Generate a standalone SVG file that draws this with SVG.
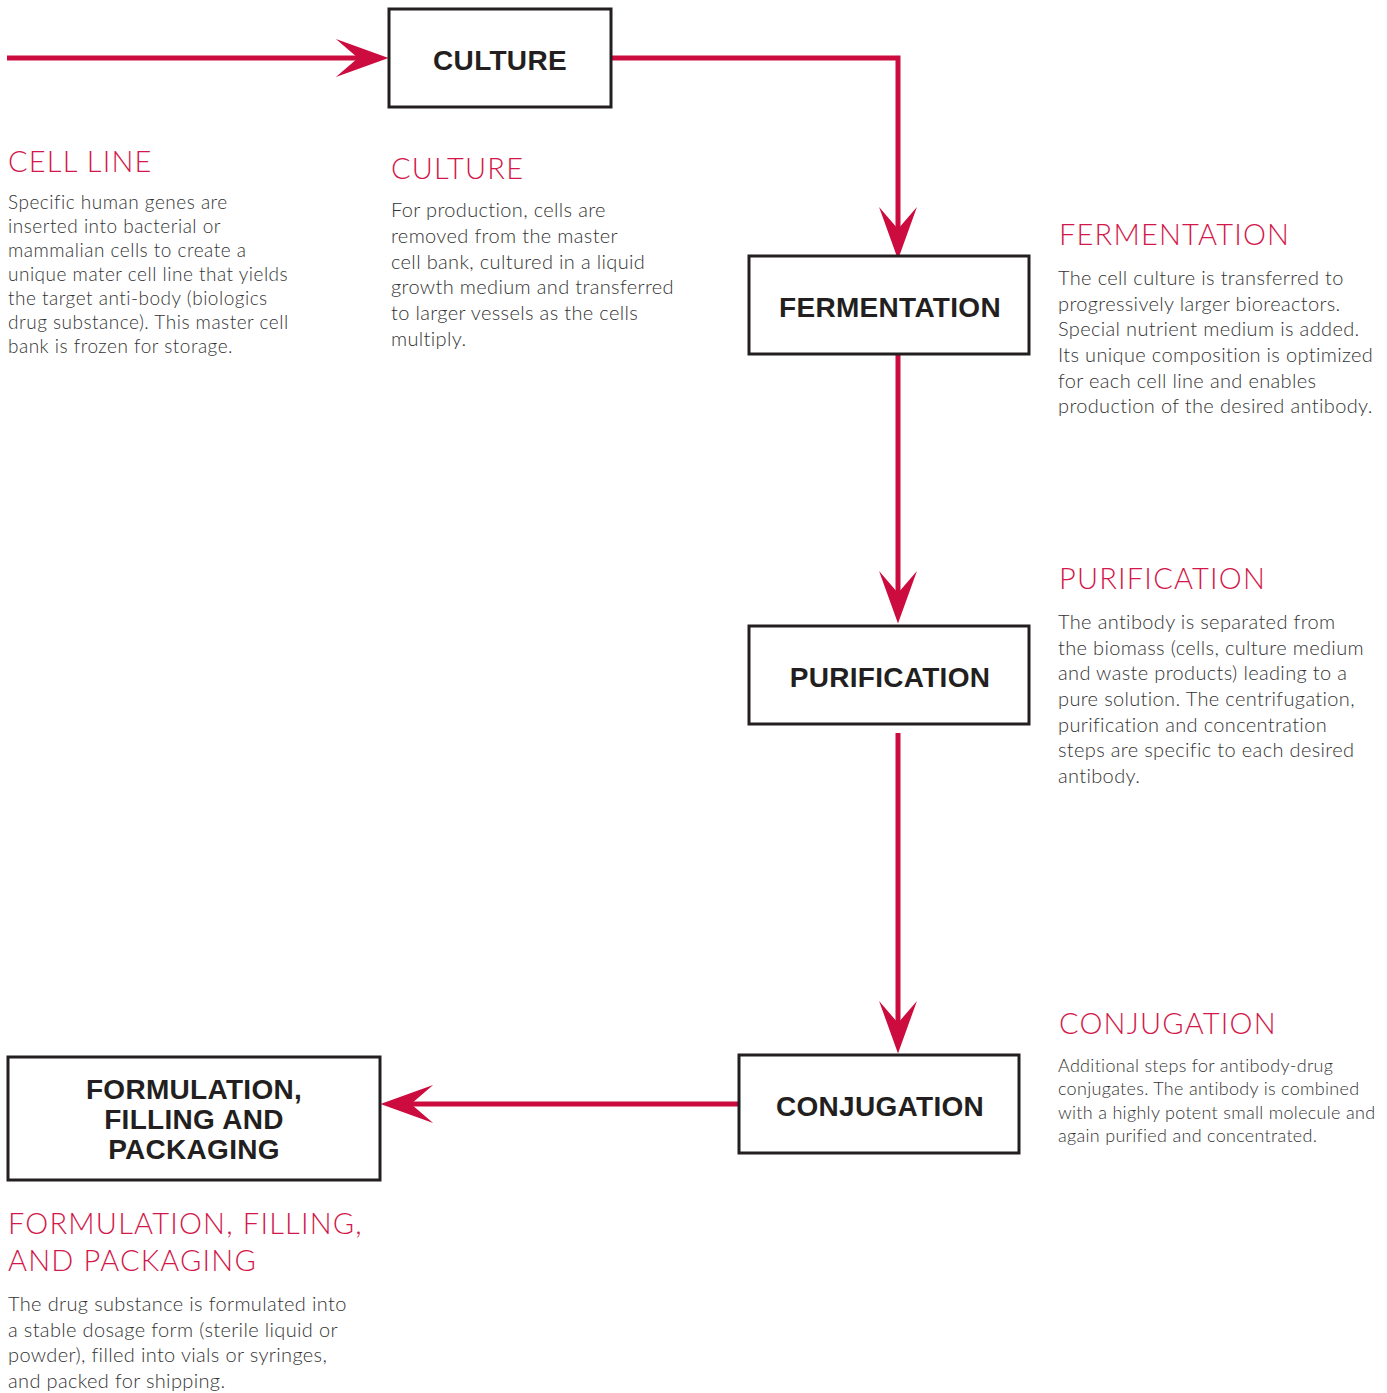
<svg xmlns="http://www.w3.org/2000/svg" width="1387" height="1393" viewBox="0 0 1387 1393">
<defs>
<style>
.box{fill:#fff;stroke:#231f20;stroke-width:3}
.lbl{font-family:"Liberation Sans",Arial,sans-serif;font-weight:bold;font-size:28px;fill:#231f20;text-anchor:middle;letter-spacing:0.3px}
.hd{font-family:Lato,"Noto Sans",sans-serif;font-weight:300;font-size:29px;fill:#d2184a;letter-spacing:1.2px}
.bd{font-family:Lato,"Noto Sans",sans-serif;font-weight:300;font-size:20px;fill:#333;letter-spacing:0.35px}
.cl{font-size:19px;letter-spacing:0.5px}
.sm{font-size:18px;letter-spacing:0.3px}
.con{fill:none;stroke:#cc0c3f;stroke-width:5}
</style>
<marker id="ah" markerUnits="userSpaceOnUse" markerWidth="60" markerHeight="40" viewBox="-22 -19 52 38" refX="0" refY="0" orient="auto">
<path d="M29,0 L-21,-18 L0,0 L-21,18 Z" fill="#cc0c3f"/>
</marker>
</defs>
<g id="connectors">
<path class="con" d="M7,58 H358" marker-end="url(#ah)"/>
<path class="con" d="M611,58 H898 V229" marker-end="url(#ah)"/>
<path class="con" d="M898,354 V593" marker-end="url(#ah)"/>
<path class="con" d="M898,733 V1023" marker-end="url(#ah)"/>
<path class="con" d="M739,1104 H411" marker-end="url(#ah)"/>
</g>
<g id="culture">
<rect class="box" x="389" y="9" width="222" height="98"/>
<text class="lbl" x="500" y="70">CULTURE</text>
</g>
<g id="fermentation">
<rect class="box" x="749" y="256" width="280" height="98"/>
<text class="lbl" x="890" y="317">FERMENTATION</text>
</g>
<g id="purification">
<rect class="box" x="749" y="626" width="280" height="98"/>
<text class="lbl" x="890" y="687">PURIFICATION</text>
</g>
<g id="conjugation">
<rect class="box" x="739" y="1055" width="280" height="98"/>
<text class="lbl" x="880" y="1116">CONJUGATION</text>
</g>
<g id="formulation">
<rect class="box" x="8" y="1057" width="372" height="123"/>
<text class="lbl" x="194" y="1099">FORMULATION,</text>
<text class="lbl" x="194" y="1129">FILLING AND</text>
<text class="lbl" x="194" y="1159">PACKAGING</text>
</g>
<g id="desc-cell-line">
<text class="hd" x="8" y="172">CELL LINE</text>
<text class="bd cl" x="8" y="209">Specific human genes are</text>
<text class="bd cl" x="8" y="233">inserted into bacterial or</text>
<text class="bd cl" x="8" y="257">mammalian cells to create a</text>
<text class="bd cl" x="8" y="281">unique mater cell line that yields</text>
<text class="bd cl" x="8" y="305">the target anti-body (biologics</text>
<text class="bd cl" x="8" y="329">drug substance). This master cell</text>
<text class="bd cl" x="8" y="353">bank is frozen for storage.</text>
</g>
<g id="desc-culture">
<text class="hd" x="391" y="179">CULTURE</text>
<text class="bd" x="391" y="217">For production, cells are</text>
<text class="bd" x="391" y="243">removed from the master</text>
<text class="bd" x="391" y="269">cell bank, cultured in a liquid</text>
<text class="bd" x="391" y="294">growth medium and transferred</text>
<text class="bd" x="391" y="320">to larger vessels as the cells</text>
<text class="bd" x="391" y="346">multiply.</text>
</g>
<g id="desc-fermentation">
<text class="hd" x="1059" y="245">FERMENTATION</text>
<text class="bd" x="1058" y="285">The cell culture is transferred to</text>
<text class="bd" x="1058" y="311">progressively larger bioreactors.</text>
<text class="bd" x="1058" y="336">Special nutrient medium is added.</text>
<text class="bd" x="1058" y="362">Its unique composition is optimized</text>
<text class="bd" x="1058" y="388">for each cell line and enables</text>
<text class="bd" x="1058" y="413">production of the desired antibody.</text>
</g>
<g id="desc-purification">
<text class="hd" x="1059" y="589">PURIFICATION</text>
<text class="bd" x="1058" y="629">The antibody is separated from</text>
<text class="bd" x="1058" y="655">the biomass (cells, culture medium</text>
<text class="bd" x="1058" y="680">and waste products) leading to a</text>
<text class="bd" x="1058" y="706">pure solution. The centrifugation,</text>
<text class="bd" x="1058" y="732">purification and concentration</text>
<text class="bd" x="1058" y="757">steps are specific to each desired</text>
<text class="bd" x="1058" y="783">antibody.</text>
</g>
<g id="desc-conjugation">
<text class="hd" x="1059" y="1034">CONJUGATION</text>
<text class="bd sm" x="1058" y="1072">Additional steps for antibody-drug</text>
<text class="bd sm" x="1058" y="1095">conjugates. The antibody is combined</text>
<text class="bd sm" x="1058" y="1119">with a highly potent small molecule and</text>
<text class="bd sm" x="1058" y="1142">again purified and concentrated.</text>
</g>
<g id="desc-formulation">
<text class="hd" x="8" y="1234">FORMULATION, FILLING,</text>
<text class="hd" x="8" y="1271">AND PACKAGING</text>
<text class="bd" x="8" y="1311">The drug substance is formulated into</text>
<text class="bd" x="8" y="1337">a stable dosage form (sterile liquid or</text>
<text class="bd" x="8" y="1362">powder), filled into vials or syringes,</text>
<text class="bd" x="8" y="1388">and packed for shipping.</text>
</g>
</svg>
